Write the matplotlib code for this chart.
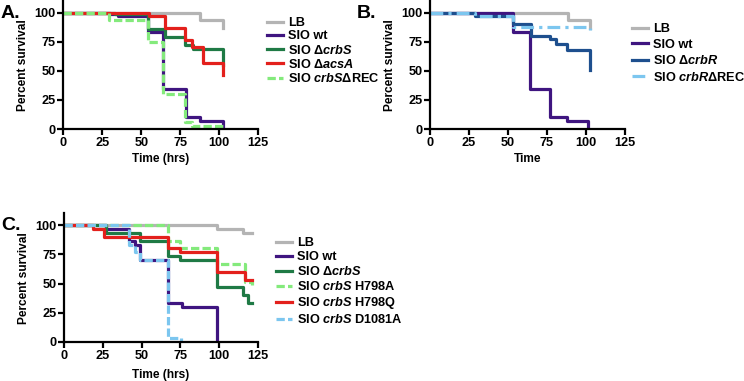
import matplotlib.pyplot as plt
import numpy as np

plt.rcParams['font.family'] = ['Liberation Sans', 'DejaVu Sans']
plt.rcParams['font.weight'] = 'bold'
plt.rcParams['mathtext.fontset'] = 'custom'
plt.rcParams['mathtext.rm'] = 'Liberation Sans:bold'
plt.rcParams['mathtext.it'] = 'Liberation Sans:italic:bold'

# colours
c_lb = '#b4b4b4'
c_wt = '#3f1580'
c_dgreen = '#1f7a45'
c_red = '#e3201c'
c_lgreen = '#84ea7c'
c_dblue = '#1e4f8e'
c_lblue = '#7cc6ef'

# ---- panel A data (time hrs, percent survival)
a_lb_t = [0, 88, 102.5]
a_lb_s = [100, 93.3, 86.7]
a_wt_t = [0, 30, 35, 54.5, 64, 78.5, 88, 102.5]
a_wt_s = [100, 98.3, 96.7, 83.3, 34.5, 10.3, 6.9, 0]
a_crbs_t = [0, 33, 54.5, 65, 78, 83, 102.5]
a_crbs_s = [100, 98.3, 86.2, 79.3, 72.4, 69.0, 55.2]
a_acsa_t = [0, 55, 65, 78, 82.5, 89.5, 102.5]
a_acsa_s = [100, 96.7, 86.7, 76.7, 70.0, 56.7, 46.7]
a_rec_t = [0, 29, 54.5, 64, 78, 82.5, 102.5]
a_rec_s = [100, 93.3, 75.0, 30.0, 6.3, 2.6, 0]

# ---- panel B data
b_lb_t = [0, 88.5, 102.5]
b_lb_s = [100, 93.3, 86.7]
b_wt_t = [0, 53.5, 64, 77, 88, 101.5]
b_wt_s = [100, 83.3, 34.5, 10.3, 6.9, 0]
b_crbr_t = [0, 29, 53.5, 65, 77, 81, 87.5, 102.5]
b_crbr_s = [100, 96.7, 90.0, 80.0, 77.5, 73.3, 67.5, 51.0]
b_rec_t = [0, 29, 53.5, 102.5]
b_rec_s = [100, 96.7, 87.5, 85.0]

# ---- panel C data
c_lb_t = [0, 98.5, 115.5, 121]
c_lb_s = [100, 96.7, 93.3, 93.3]
c_wt_t = [0, 27, 42, 46, 49, 67, 76, 98.5]
c_wt_s = [100, 96.7, 86.7, 83.3, 70.0, 33.3, 30.0, 0]
c_crbs_t = [0, 27, 49, 67, 74.5, 98.5, 115.5, 118.5, 121]
c_crbs_s = [100, 93.3, 86.7, 73.3, 70.0, 46.7, 40.0, 33.3, 33.3]
c_h798a_t = [0, 67, 74.5, 98.5, 116.5, 121]
c_h798a_s = [100, 86.7, 80.0, 66.7, 51.7, 48.3]
c_h798q_t = [0, 18.5, 26, 67, 74.5, 98.5, 116.5, 121]
c_h798q_s = [100, 96.7, 90.0, 80.0, 76.7, 60.0, 53.3, 53.3]
c_d1081a_t = [0, 42, 46, 49, 67, 75.5]
c_d1081a_s = [100, 83.3, 76.7, 70.0, 3.3, 0]

lw = 2.3
dash = (0, (2.6, 1.0))
dashdot = (0, (4, 1.6, 1, 1.6))
fs_tick = 9.2
fs_lab = 8.6
fs_leg = 9.2

fig = plt.figure(figsize=(7.44, 3.81), dpi=100)
W, H = 744, 381


def make_ax(left, right, zero_px, hundred_px):
    per = (zero_px - hundred_px) / 100
    top_px = zero_px - per * 110
    ax = fig.add_axes([left / W, 1 - zero_px / H, (right - left) / W, (zero_px - top_px) / H])
    ax.set_xlim(0, 125)
    ax.set_ylim(0, 110)
    ax.set_xticks([0, 25, 50, 75, 100, 125])
    ax.set_yticks([0, 25, 50, 75, 100])
    for s in ['top', 'right']:
        ax.spines[s].set_visible(False)
    for s in ['left', 'bottom']:
        ax.spines[s].set_linewidth(1.6)
    ax.tick_params(width=1.6, length=4, labelsize=fs_tick, pad=1.5)
    for lab in ax.get_xticklabels() + ax.get_yticklabels():
        lab.set_fontweight('bold')
    ax.set_ylabel('Percent survival', fontsize=fs_lab, fontweight='bold', labelpad=4)
    return ax


def st(ax, t, s, c, ls='-', label=None):
    ax.step(t, s, where='post', color=c, lw=lw, ls=ls, label=label)


def leg(ax, x, y, spacing):
    ax.legend(loc='upper left', bbox_to_anchor=(x / W, 1 - y / H), bbox_transform=fig.transFigure,
              frameon=False, handlelength=1.25, handletextpad=0.4, labelspacing=spacing,
              borderaxespad=0, borderpad=0, prop={'weight': 'bold', 'size': fs_leg})


# Panel A
axA = make_ax(63.5, 258, 129, 12.5)
st(axA, a_lb_t, a_lb_s, c_lb, label='LB')
st(axA, a_wt_t, a_wt_s, c_wt, label='SIO wt')
st(axA, a_crbs_t, a_crbs_s, c_dgreen, label=r'SIO Δ$\it{crbS}$')
st(axA, a_acsa_t, a_acsa_s, c_red, label=r'SIO Δ$\it{acsA}$')
st(axA, a_rec_t, a_rec_s, c_lgreen, ls=dash, label=r'SIO $\it{crbS}$ΔREC')
axA.set_xlabel('Time (hrs)', fontsize=fs_lab, fontweight='bold', labelpad=3)
leg(axA, 267, 17, 0.1)

# Panel B
axB = make_ax(430, 625, 129, 12.5)
st(axB, b_lb_t, b_lb_s, c_lb, label='LB')
st(axB, b_wt_t, b_wt_s, c_wt, label='SIO wt')
st(axB, b_crbr_t, b_crbr_s, c_dblue, label=r'SIO Δ$\it{crbR}$')
st(axB, b_rec_t, b_rec_s, c_lblue, ls=dashdot, label=r'SIO $\it{crbR}$ΔREC')
axB.set_xlabel('Time', fontsize=fs_lab, fontweight='bold', labelpad=3)
leg(axB, 632, 23, 0.28)

# Panel C
axC = make_ax(64, 258, 342, 225)
st(axC, c_lb_t, c_lb_s, c_lb, label='LB')
st(axC, c_wt_t, c_wt_s, c_wt, label='SIO wt')
st(axC, c_crbs_t, c_crbs_s, c_dgreen, label=r'SIO Δ$\it{crbS}$')
st(axC, c_h798a_t, c_h798a_s, c_lgreen, ls=dash, label=r'SIO $\it{crbS}$ H798A')
st(axC, c_h798q_t, c_h798q_s, c_red, label=r'SIO $\it{crbS}$ H798Q')
st(axC, c_d1081a_t, c_d1081a_s, c_lblue, ls=dash, label=r'SIO $\it{crbS}$ D1081A')
axC.set_xlabel('Time (hrs)', fontsize=fs_lab, fontweight='bold', labelpad=5)
leg(axC, 276, 237, 0.16)

# panel letters
fig.text(1 / W, 1 - 13 / H, 'A.', fontsize=14, fontweight='bold', va='center', ha='left')
fig.text(357 / W, 1 - 13 / H, 'B.', fontsize=14, fontweight='bold', va='center', ha='left')
fig.text(1 / W, 1 - 226 / H, 'C.', fontsize=14, fontweight='bold', va='center', ha='left')

fig.savefig('out.png', dpi=100)
